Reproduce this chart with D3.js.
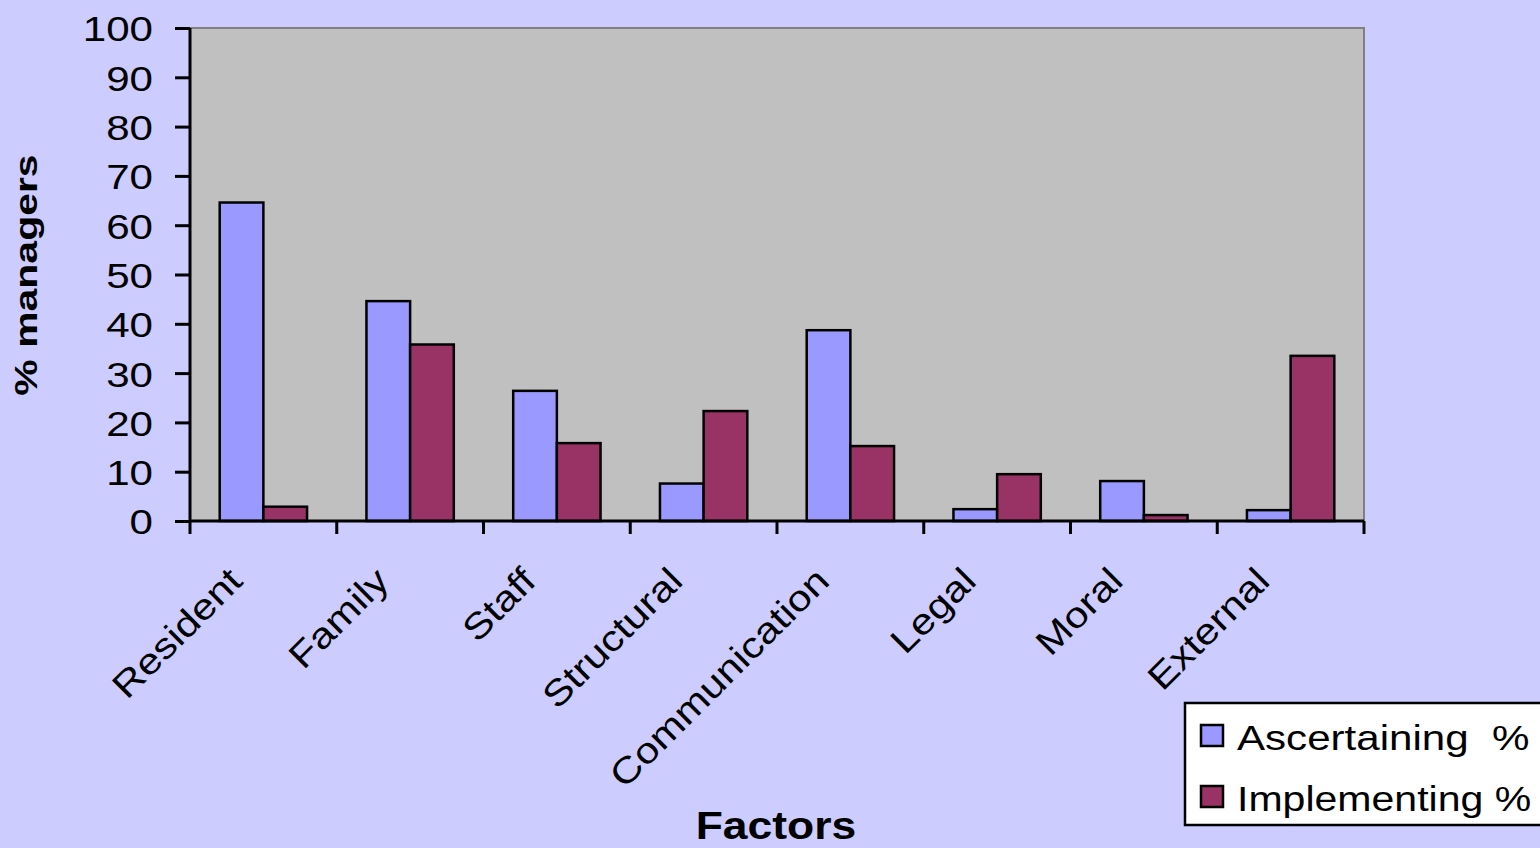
<!DOCTYPE html>
<html>
<head>
<meta charset="utf-8">
<script src="https://cdn.jsdelivr.net/npm/d3@7"></script>
<style>
  html, body { margin: 0; padding: 0; background: #CCCCFF; overflow: hidden; }
  svg { display: block; font-family: "Liberation Sans", Arial, sans-serif; }
</style>
</head>
<body>
<svg id="chart" width="1540" height="848"></svg>
<script>
const categories = ["Resident", "Family", "Staff", "Structural", "Communication", "Legal", "Moral", "External"];
const ascertaining = [64.6, 44.6, 26.4, 7.6, 38.7, 2.4, 8.1, 2.2];
const implementing = [2.9, 35.8, 15.8, 22.3, 15.2, 9.5, 1.2, 33.5];
const seriesNames = ["Ascertaining  %", "Implementing %"];
const seriesColors = ["#9999FF", "#993366"];
const yTicks = [0, 10, 20, 30, 40, 50, 60, 70, 80, 90, 100];

const svg = d3.select("#chart");
const plotL = 190, plotR = 1364, plotT = 28, plotB = 521;
const stretch = 1.17; // the original text is drawn wide

// plot area
svg.append("rect").attr("x", plotL).attr("y", plotT)
  .attr("width", plotR - plotL).attr("height", plotB - plotT)
  .attr("fill", "#C0C0C0");
svg.append("path")
  .attr("d", `M${plotL},${plotT}H${plotR}V${plotB}`)
  .attr("fill", "none").attr("stroke", "#808080").attr("stroke-width", 2);

const x = d3.scaleBand().domain(categories).range([plotL, plotR]);
const xs = d3.scaleBand().domain([0, 1]).range([0, x.bandwidth()]).paddingInner(0).paddingOuter(0.68);
const y = d3.scaleLinear().domain([0, 100]).range([plotB, plotT]);

const data = categories.map((c, i) => ({ c, vals: [ascertaining[i], implementing[i]] }));

const groups = svg.append("g").selectAll("g").data(data).join("g")
  .attr("transform", d => `translate(${x(d.c)},0)`);
groups.selectAll("rect").data(d => d.vals).join("rect")
  .attr("x", (d, i) => xs(i))
  .attr("y", d => y(d))
  .attr("width", xs.bandwidth())
  .attr("height", d => plotB - y(d))
  .attr("fill", (d, i) => seriesColors[i])
  .attr("stroke", "#000").attr("stroke-width", 2.5);

// y axis
const yAxis = svg.append("g").attr("transform", `translate(${plotL},0)`)
  .call(d3.axisLeft(y).tickValues(yTicks).tickSize(15));
yAxis.select(".domain").attr("stroke", "#000").attr("stroke-width", 3).attr("d", `M0,${plotT}V${plotB}`);
yAxis.selectAll(".tick line").attr("stroke", "#000").attr("stroke-width", 3);
yAxis.selectAll(".tick text")
  .attr("x", 0).attr("dy", "0.36em")
  .attr("transform", `translate(-37,0) scale(${stretch},1)`)
  .attr("font-size", 36).attr("fill", "#000")
  .attr("font-family", "Liberation Sans, Arial, sans-serif");

// x axis
const boundaries = d3.range(categories.length + 1).map(i => plotL + i * x.bandwidth());
const xAxis = svg.append("g");
xAxis.append("line").attr("x1", plotL).attr("x2", plotR).attr("y1", plotB).attr("y2", plotB)
  .attr("stroke", "#000").attr("stroke-width", 3);
xAxis.selectAll("line.tk").data(boundaries).join("line").attr("class", "tk")
  .attr("x1", d => d).attr("x2", d => d).attr("y1", plotB).attr("y2", plotB + 13)
  .attr("stroke", "#000").attr("stroke-width", 3);
xAxis.selectAll("text").data(categories).join("text")
  .attr("transform", d => `translate(${x(d) + x.bandwidth() / 2 - 19},${plotB + 62}) rotate(-45) scale(${stretch},1)`)
  .attr("text-anchor", "end")
  .attr("font-size", 36).attr("fill", "#000")
  .text(d => d);

// axis titles
svg.append("text")
  .attr("transform", `translate(37,275) rotate(-90) scale(1.28,1)`)
  .attr("text-anchor", "middle").attr("font-weight", "bold").attr("font-size", 32)
  .text("% managers");
svg.append("text")
  .attr("transform", `translate(776,839) scale(1.17,1)`)
  .attr("text-anchor", "middle").attr("font-weight", "bold").attr("font-size", 38)
  .text("Factors");

// legend
const legend = svg.append("g");
legend.append("rect").attr("x", 1185).attr("y", 703).attr("width", 380).attr("height", 122)
  .attr("fill", "#fff").attr("stroke", "#000").attr("stroke-width", 2.5);
seriesNames.forEach((name, i) => {
  const ly = 736 + i * 61;
  legend.append("rect").attr("x", 1201).attr("y", ly - 11).attr("width", 22).attr("height", 21)
    .attr("fill", seriesColors[i]).attr("stroke", "#000").attr("stroke-width", 2.5);
  legend.append("text")
    .attr("transform", `translate(1237,${ly + 14}) scale(${i === 0 ? stretch : 1.14},1)`)
    .attr("font-size", 36).style("white-space", "pre")
    .text(name);
});
</script>
</body>
</html>
